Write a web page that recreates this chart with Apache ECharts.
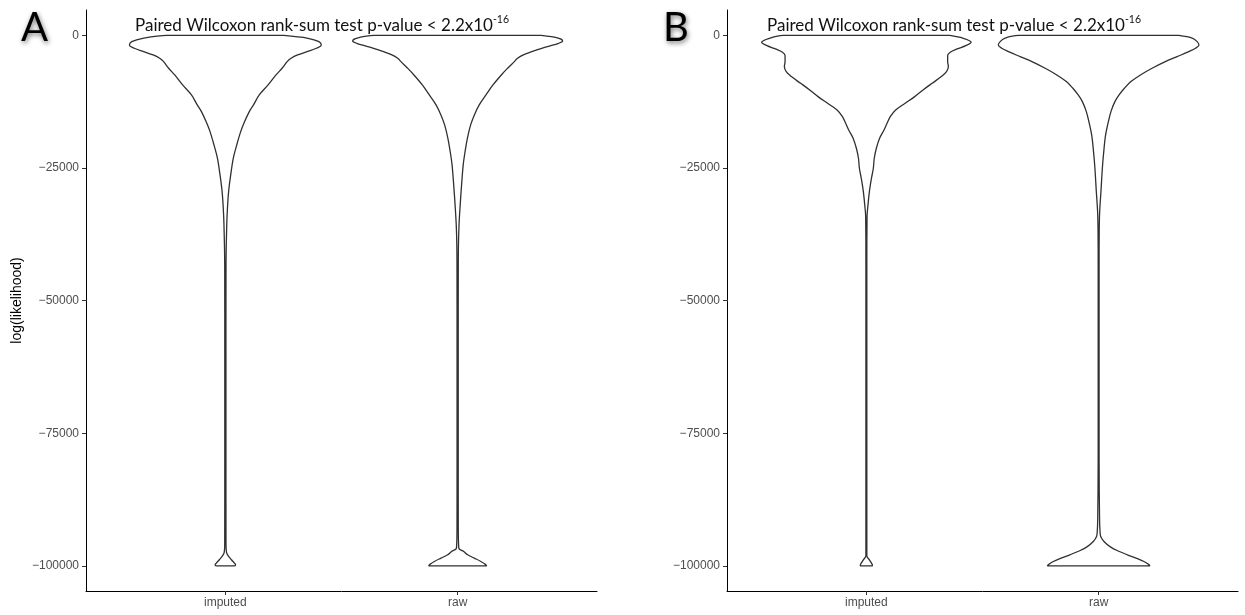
<!DOCTYPE html>
<html><head><meta charset="utf-8">
<script src="https://cdn.jsdelivr.net/npm/echarts@6/dist/echarts.min.js"></script>
<style>html,body{margin:0;padding:0;background:#fff}#c{width:1245px;height:615px}</style>
</head><body><div id="c"></div>
<script>
const categories = ['imputed', 'raw'];
const yTicks = [0, -25000, -50000, -75000, -100000];
const panelLetters = ['A', 'B'];
const titleMain = 'Paired Wilcoxon rank-sum test p-value < 2.2x10';
const titleSup = '-16';
const yAxisTitle = 'log(likelihood)';

// Violin outlines: log-likelihood level and half-width (in category units)
const aImputedY = [0, -534, -1162, -1791, -2419, -3048, -3676, -4304, -4933, -6190, -7446, -9331, -11216, -13101, -14358, -16243, -18128, -20641, -23154, -26296, -29438, -32580, -35721, -43262, -60000, -80000, -96000, -97485, -98239, -98867, -99496, -99810, -100000];
const aImputedW = [0.251, 0.356, 0.403, 0.413, 0.392, 0.352, 0.311, 0.283, 0.266, 0.244, 0.218, 0.184, 0.146, 0.121, 0.103, 0.083, 0.066, 0.049, 0.034, 0.023, 0.014, 0.009, 0.006, 0.0028, 0.0025, 0.0025, 0.0028, 0.005, 0.014, 0.026, 0.039, 0.044, 0.040];

const aRawY = [0, -534, -1037, -1477, -2105, -2733, -3676, -4304, -4933, -6190, -7446, -9331, -11216, -13101, -14986, -16871, -19384, -21898, -24411, -28181, -31951, -35721, -39491, -43262, -60000, -80000, -93000, -96670, -97298, -97926, -98555, -99183, -99685, -100000];
const aRawW = [0.360, 0.436, 0.452, 0.435, 0.387, 0.341, 0.283, 0.258, 0.244, 0.215, 0.188, 0.152, 0.122, 0.093, 0.072, 0.056, 0.042, 0.032, 0.024, 0.017, 0.011, 0.006, 0.0035, 0.0028, 0.0025, 0.0025, 0.0028, 0.005, 0.026, 0.043, 0.072, 0.100, 0.118, 0.125];

const bImputedY = [0, -534, -1288, -1917, -2545, -3173, -3801, -4933, -5875, -6818, -7760, -9017, -10273, -11530, -12787, -14043, -15300, -16557, -17813, -19384, -21269, -23154, -25039, -26924, -29438, -31951, -34150, -43262, -60000, -80000, -97000, -98113, -98867, -99496, -99874, -100000];
const bImputedW = [0.359, 0.417, 0.451, 0.428, 0.391, 0.361, 0.350, 0.350, 0.353, 0.345, 0.323, 0.283, 0.244, 0.208, 0.167, 0.126, 0.103, 0.089, 0.076, 0.057, 0.043, 0.034, 0.030, 0.022, 0.013, 0.007, 0.003, 0.002, 0.002, 0.002, 0.002, 0.002, 0.013, 0.022, 0.026, 0.025];

const bRawY = [0, -534, -1162, -1791, -2419, -3048, -3990, -4933, -6190, -7446, -8703, -9959, -11216, -12473, -14358, -16243, -18756, -21898, -25039, -29438, -33208, -36978, -43262, -60000, -80000, -91328, -93528, -94470, -95413, -96481, -97298, -97926, -98555, -99183, -99685, -100000];
const bRawW = [0.345, 0.405, 0.424, 0.432, 0.417, 0.388, 0.338, 0.287, 0.230, 0.180, 0.139, 0.111, 0.088, 0.070, 0.053, 0.042, 0.030, 0.022, 0.016, 0.010, 0.0045, 0.0025, 0.002, 0.002, 0.002, 0.004, 0.006, 0.009, 0.023, 0.052, 0.089, 0.124, 0.161, 0.195, 0.213, 0.221];

function outline(center, ys, ws) {
  const right = ys.map((y, i) => [center + ws[i], y]);
  const left = ys.map((y, i) => [center - ws[i], y]).reverse();
  return right.concat(left).concat([right[0]]);
}

const tickFont = 'Liberation Sans, Arial, sans-serif';

function makeX(gi) {
  return {
    type: 'value', gridIndex: gi, min: 0.4, max: 2.6,
    axisLine: { show: true, onZero: false, lineStyle: { color: '#000', width: 1 } },
    axisTick: { show: true, customValues: [1, 2], length: 4, lineStyle: { color: '#333' } },
    axisLabel: { show: true, customValues: [1, 2], formatter: v => categories[Math.round(v) - 1],
      color: '#4D4D4D', fontSize: 12, fontFamily: tickFont, margin: 6 },
    splitLine: { show: false }
  };
}
function makeY(gi, name) {
  return {
    type: 'value', gridIndex: gi, min: -104750, max: 4800,
    name: name, nameLocation: 'middle', nameGap: 62,
    nameTextStyle: { color: '#000', fontSize: 14, fontFamily: tickFont },
    axisLine: { show: true, onZero: false, lineStyle: { color: '#000', width: 1 } },
    axisTick: { show: true, customValues: yTicks, length: 4, lineStyle: { color: '#333' } },
    axisLabel: { show: true, customValues: yTicks, formatter: v => String(v).replace('-', '\u2212'),
      color: '#4D4D4D', fontSize: 12, fontFamily: tickFont, margin: 7 },
    splitLine: { show: false }
  };
}
function violin(gi, center, ys, ws) {
  return {
    type: 'line', xAxisIndex: gi, yAxisIndex: gi, data: outline(center, ys, ws),
    smooth: 0.35, symbol: 'none', silent: true,
    lineStyle: { color: '#303030', width: 1.3 }
  };
}
const letterStyle = { fontSize: 40, fontFamily: 'Lato', fontWeight: 'normal', color: '#000',
  textShadowColor: 'rgba(0,0,0,0.55)', textShadowBlur: 5, textShadowOffsetX: 1, textShadowOffsetY: 2 };
const titleStyle = { fontWeight: 'normal', rich: {
  m: { fontSize: 17, fontFamily: 'Lato', fontWeight: 'normal', color: '#111', lineHeight: 20, verticalAlign: 'bottom' },
  s: { fontSize: 10.5, fontFamily: 'Lato', fontWeight: 'normal', color: '#111', lineHeight: 20, verticalAlign: 'top' }
} };

const chart = echarts.init(document.getElementById('c'), null, { renderer: 'canvas' });
chart.setOption({
  animation: false,
  backgroundColor: '#fff',
  title: [
    { text: panelLetters[0], left: 21, top: 8, padding: 0, textStyle: letterStyle },
    { text: panelLetters[1], left: 663, top: 8, padding: 0, textStyle: letterStyle },
    { text: '{m|' + titleMain + '}{s|' + titleSup + '}', left: 135, top: 14, padding: 0, textStyle: titleStyle },
    { text: '{m|' + titleMain + '}{s|' + titleSup + '}', left: 767, top: 14, padding: 0, textStyle: titleStyle }
  ],
  grid: [
    { left: 86, top: 10, width: 511, height: 581 },
    { left: 727, top: 10, width: 511, height: 581 }
  ],
  xAxis: [makeX(0), makeX(1)],
  yAxis: [makeY(0, yAxisTitle), makeY(1, '')],
  series: [
    violin(0, 1, aImputedY, aImputedW),
    violin(0, 2, aRawY, aRawW),
    violin(1, 1, bImputedY, bImputedW),
    violin(1, 2, bRawY, bRawW)
  ]
});
</script></body></html>
